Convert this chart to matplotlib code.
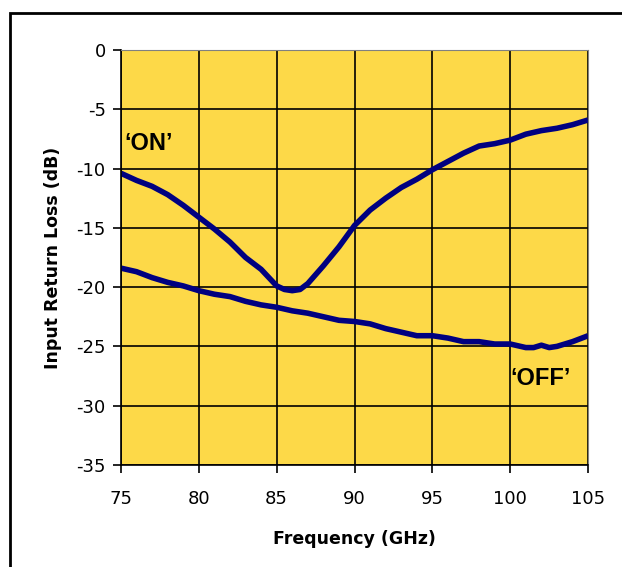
import matplotlib.pyplot as plt
from matplotlib.patches import Rectangle

freq_on = [75, 76, 77, 78, 79, 80, 81, 82, 83, 84, 85, 85.5, 86, 86.5, 87, 88, 89, 90,
           91, 92, 93, 94, 95, 96, 97, 98, 99, 100, 101, 102, 103, 104, 105]
rl_on = [-10.4, -11.0, -11.5, -12.2, -13.1, -14.1, -15.1, -16.2, -17.5, -18.5, -19.9, -20.2,
         -20.3, -20.2, -19.7, -18.2, -16.6, -14.8, -13.5, -12.5, -11.6, -10.9, -10.1, -9.4,
         -8.7, -8.1, -7.9, -7.6, -7.1, -6.8, -6.6, -6.3, -5.9]

freq_off = [75, 76, 77, 78, 79, 80, 81, 82, 83, 84, 85, 86, 87, 88, 89, 90, 91, 92, 93,
            94, 95, 96, 97, 98, 99, 100, 101, 101.5, 102, 102.5, 103, 104, 105]
rl_off = [-18.4, -18.7, -19.2, -19.6, -19.9, -20.3, -20.6, -20.8, -21.2, -21.5, -21.7, -22.0,
          -22.2, -22.5, -22.8, -22.9, -23.1, -23.5, -23.8, -24.1, -24.1, -24.3, -24.6, -24.6,
          -24.8, -24.8, -25.1, -25.1, -24.9, -25.1, -25.0, -24.6, -24.1]

xticks = [75, 80, 85, 90, 95, 100, 105]
yticks = [0, -5, -10, -15, -20, -25, -30, -35]

plt.rcParams['font.family'] = ['DejaVu Sans']
plt.rcParams['axes.unicode_minus'] = False

fig = plt.figure(figsize=(6.22, 5.67), dpi=100)
ax = fig.add_axes([0.1945, 0.18, 0.751, 0.7318])
fig.patches.append(Rectangle((10 / 622, -0.01), 0.99, 1 - 13 / 567 + 0.01,
                             transform=fig.transFigure, fill=False,
                             edgecolor='black', linewidth=2))

ax.set_facecolor('#FDD948')
ax.plot(freq_on, rl_on, color='#000080', linewidth=4.0, solid_capstyle='butt')
ax.plot(freq_off, rl_off, color='#000080', linewidth=4.0, solid_capstyle='butt')

ax.set_xlim(75, 105)
ax.set_ylim(-35, 0)
ax.set_xticks(xticks)
ax.set_yticks(yticks)
ax.tick_params(direction='out', length=6, width=1.2, labelsize=13)
ax.tick_params(axis='x', pad=12)
ax.tick_params(axis='y', pad=5)
ax.grid(True, color='black', linewidth=1.2)
ax.set_axisbelow(True)
for s in ['top', 'right']:
    ax.spines[s].set_color('#808080')
for s in ['left', 'bottom']:
    ax.spines[s].set_linewidth(1.2)

ax.set_xlabel('Frequency (GHz)', fontsize=12.5, fontweight='bold', labelpad=16)
ax.set_ylabel('Input Return Loss (dB)', fontsize=12.5, fontweight='bold', labelpad=10)

ax.text(75.2, -7.9, '\u2018ON\u2019', fontsize=17, fontweight='bold',
        family=['Liberation Sans', 'DejaVu Sans'], va='center', ha='left')
ax.text(100.0, -27.7, '\u2018OFF\u2019', fontsize=17, fontweight='bold',
        family=['Liberation Sans', 'DejaVu Sans'], va='center', ha='left')

fig.savefig('out.png', dpi=100)
